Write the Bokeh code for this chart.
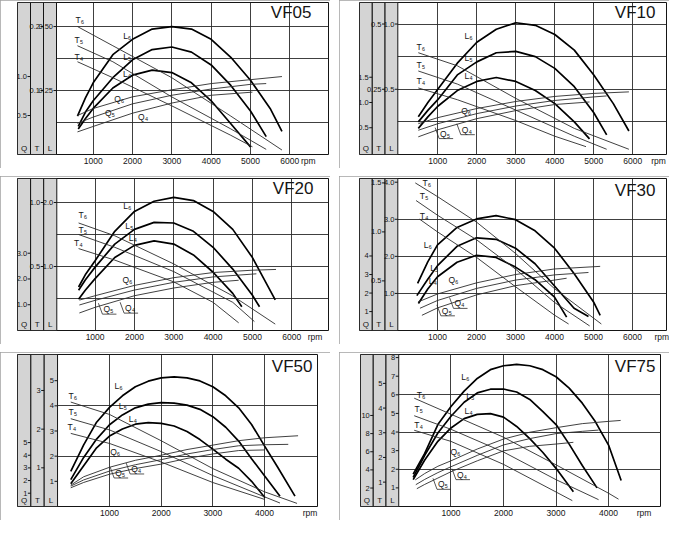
from bokeh.plotting import figure
from bokeh.models import Range1d, FixedTicker
from bokeh.layouts import row, column
from bokeh.embed import file_html
from bokeh.resources import INLINE
from bokeh.core.properties import value

FONT = "Liberation Sans"

# ------------------------------------------------------------------ VF05
vf05_rpm_L6 = [600, 800, 1000, 1500, 2000, 2500, 3000, 3500, 4000, 4500, 5000, 5500, 5800]
vf05_L6 = [0.15, 0.22, 0.28, 0.39, 0.45, 0.49, 0.50, 0.49, 0.45, 0.38, 0.29, 0.18, 0.09]
vf05_rpm_L5 = [620, 800, 1000, 1500, 2000, 2500, 3000, 3500, 4000, 4500, 5000, 5400]
vf05_L5 = [0.11, 0.165, 0.21, 0.30, 0.37, 0.41, 0.42, 0.40, 0.35, 0.27, 0.17, 0.07]
vf05_rpm_L4 = [620, 800, 1000, 1500, 2000, 2500, 3000, 3500, 4000, 4500, 5000]
vf05_L4 = [0.10, 0.14, 0.18, 0.26, 0.31, 0.33, 0.32, 0.28, 0.21, 0.12, 0.03]
vf05_rpm_T6 = [600, 1500, 3000, 4500, 5800]
vf05_T6 = [0.20, 0.17, 0.12, 0.06, 0.007]
vf05_rpm_T5 = [600, 1500, 3000, 4500, 5400]
vf05_T5 = [0.17, 0.145, 0.09, 0.04, 0.008]
vf05_rpm_T4 = [600, 1500, 3000, 4500, 5050]
vf05_T4 = [0.145, 0.12, 0.076, 0.03, 0.012]
vf05_rpm_Q6 = [600, 1000, 2000, 3000, 4000, 5000, 5800]
vf05_Q6 = [0.50, 0.59, 0.74, 0.83, 0.91, 0.96, 1.00]
vf05_rpm_Q5 = [600, 1000, 2000, 3000, 4000, 5000, 5400]
vf05_Q5 = [0.40, 0.48, 0.65, 0.76, 0.84, 0.90, 0.91]
vf05_rpm_Q4 = [600, 1000, 2000, 3000, 4000, 5050]
vf05_Q4 = [0.29, 0.36, 0.53, 0.66, 0.76, 0.80]
vf05_Q_ticks, vf05_Q_labels = [0.5, 1.0], ["0.5", "1.0"]
vf05_T_ticks, vf05_T_labels = [0.1, 0.2], ["0.1", "0.2"]
vf05_L_ticks, vf05_L_labels = [0.25, 0.50], ["0.25", "0.50"]

# ------------------------------------------------------------------ VF10
vf10_rpm_L6 = [500, 750, 1000, 1500, 2000, 2500, 3000, 3500, 4000, 4500, 5000, 5500, 5900]
vf10_L6 = [0.29, 0.40, 0.50, 0.70, 0.86, 0.96, 1.01, 0.99, 0.92, 0.80, 0.61, 0.39, 0.18]
vf10_rpm_L5 = [500, 750, 1000, 1500, 2000, 2500, 3000, 3500, 4000, 4500, 5000, 5330]
vf10_L5 = [0.25, 0.34, 0.42, 0.61, 0.71, 0.78, 0.79, 0.75, 0.66, 0.52, 0.32, 0.15]
vf10_rpm_L4 = [500, 750, 1000, 1500, 2000, 2500, 3000, 3500, 4000, 4500, 4890]
vf10_L4 = [0.20, 0.29, 0.37, 0.49, 0.56, 0.59, 0.56, 0.49, 0.39, 0.25, 0.12]
vf10_rpm_T6 = [500, 1500, 3000, 4500, 5900]
vf10_T6 = [0.39, 0.34, 0.215, 0.10, 0.02]
vf10_rpm_T5 = [500, 1500, 3000, 4500, 5330]
vf10_T5 = [0.32, 0.27, 0.17, 0.07, 0.02]
vf10_rpm_T4 = [500, 1500, 3000, 4000, 4800]
vf10_T4 = [0.255, 0.21, 0.13, 0.07, 0.03]
vf10_rpm_Q6 = [500, 1000, 2000, 3000, 4000, 5000, 5900]
vf10_Q6 = [0.58, 0.70, 0.88, 1.02, 1.12, 1.18, 1.21]
vf10_rpm_Q5 = [500, 1000, 2000, 3000, 4000, 5000, 5330]
vf10_Q5 = [0.45, 0.58, 0.78, 0.93, 1.04, 1.11, 1.13]
vf10_rpm_Q4 = [500, 1000, 2000, 3000, 4000, 4890]
vf10_Q4 = [0.32, 0.46, 0.68, 0.84, 0.96, 1.01]
vf10_Q_ticks, vf10_Q_labels = [0.5, 1.0, 1.5], ["0.5", "1.0", "1.5"]
vf10_T_ticks, vf10_T_labels = [0.25, 0.5], ["0.25", "0.5"]
vf10_L_ticks, vf10_L_labels = [0.5, 1.0], ["0.5", "1.0"]

# ------------------------------------------------------------------ VF20
vf20_rpm_L6 = [580, 750, 1000, 1500, 2000, 2500, 3000, 3500, 4000, 4500, 5000, 5580]
vf20_L6 = [0.68, 0.87, 1.09, 1.55, 1.86, 2.02, 2.08, 2.03, 1.86, 1.58, 1.14, 0.48]
vf20_rpm_L5 = [580, 750, 1000, 1500, 2000, 2500, 3000, 3500, 4000, 4500, 5000, 5180]
vf20_L5 = [0.63, 0.79, 0.99, 1.35, 1.58, 1.69, 1.68, 1.55, 1.30, 0.96, 0.55, 0.37]
vf20_rpm_L4 = [580, 750, 1000, 1500, 2000, 2500, 3000, 3500, 4000, 4500, 4730]
vf20_L4 = [0.49, 0.63, 0.81, 1.14, 1.33, 1.40, 1.35, 1.18, 0.91, 0.58, 0.37]
vf20_rpm_T6 = [580, 1500, 3000, 4500, 5580]
vf20_T6 = [0.84, 0.74, 0.52, 0.27, 0.05]
vf20_rpm_T5 = [580, 1500, 3000, 4500, 5050]
vf20_T5 = [0.75, 0.65, 0.46, 0.22, 0.07]
vf20_rpm_T4 = [580, 1500, 3000, 4000, 4650]
vf20_T4 = [0.64, 0.55, 0.38, 0.22, 0.06]
vf20_rpm_Q6 = [600, 1000, 2000, 3000, 4000, 5000, 5600]
vf20_Q6 = [1.18, 1.35, 1.75, 2.05, 2.25, 2.34, 2.37]
vf20_rpm_Q5 = [600, 1000, 2000, 3000, 4000, 5100]
vf20_Q5 = [0.99, 1.17, 1.57, 1.87, 2.08, 2.20]
vf20_rpm_Q4 = [600, 1000, 2000, 3000, 4000, 4650]
vf20_Q4 = [0.68, 0.90, 1.35, 1.65, 1.87, 1.95]
vf20_Q_ticks, vf20_Q_labels = [1.0, 2.0, 3.0], ["1.0", "2.0", "3.0"]
vf20_T_ticks, vf20_T_labels = [0.5, 1.0], ["0.5", "1.0"]
vf20_L_ticks, vf20_L_labels = [1.0, 2.0], ["1.0", "2.0"]

# ------------------------------------------------------------------ VF30
vf30_rpm_L6 = [490, 750, 1000, 1500, 2000, 2500, 3000, 3500, 4000, 4500, 5000, 5170]
vf30_L6 = [1.27, 1.85, 2.31, 2.78, 3.01, 3.10, 2.99, 2.69, 2.22, 1.54, 0.77, 0.41]
vf30_rpm_L5 = [470, 750, 1000, 1500, 2000, 2500, 3000, 3500, 4000, 4500, 4870]
vf30_L5 = [0.94, 1.38, 1.75, 2.27, 2.50, 2.46, 2.22, 1.80, 1.20, 0.60, 0.38]
vf30_rpm_L4 = [510, 750, 1000, 1500, 2000, 2500, 3000, 3500, 4000, 4310]
vf30_L4 = [0.73, 1.12, 1.45, 1.84, 2.03, 1.97, 1.71, 1.37, 0.90, 0.36]
vf30_rpm_T6 = [430, 1000, 2000, 3000, 4000, 5200]
vf30_T6 = [1.50, 1.36, 1.10, 0.78, 0.42, 0.06]
vf30_rpm_T5 = [450, 1000, 2000, 3000, 4000, 4900]
vf30_T5 = [1.32, 1.17, 0.92, 0.62, 0.28, 0.04]
vf30_rpm_T4 = [540, 1000, 2000, 3000, 4000, 4360]
vf30_T4 = [1.13, 1.00, 0.74, 0.44, 0.15, 0.06]
vf30_rpm_Q6 = [500, 1000, 2000, 3000, 4000, 5170]
vf30_Q6 = [1.52, 1.95, 2.55, 3.00, 3.30, 3.44]
vf30_rpm_Q5 = [550, 1000, 2000, 3000, 4000, 4870]
vf30_Q5 = [1.18, 1.60, 2.25, 2.70, 2.98, 3.11]
vf30_rpm_Q4 = [600, 1000, 2000, 3000, 4000, 4310]
vf30_Q4 = [0.80, 1.20, 1.90, 2.40, 2.70, 2.80]
vf30_Q_ticks, vf30_Q_labels = [1, 2, 3, 4], ["1", "2", "3", "4"]
vf30_T_ticks, vf30_T_labels = [0.5, 1.0, 1.5], ["0.5", "1.0", "1.5"]
vf30_L_ticks, vf30_L_labels = [1.0, 2.0, 3.0, 4.0], ["1.0", "2.0", "3.0", "4.0"]

# ------------------------------------------------------------------ VF50
vf50_rpm_L6 = [250, 500, 750, 1000, 1250, 1500, 1750, 2000, 2250, 2500, 2750, 3000, 3250, 3500, 3750, 4000, 4250, 4590]
vf50_L6 = [1.40, 2.45, 3.35, 3.94, 4.40, 4.76, 4.98, 5.11, 5.15, 5.11, 4.99, 4.76, 4.40, 3.92, 3.26, 2.41, 1.58, 0.41]
vf50_rpm_L5 = [250, 500, 750, 1000, 1250, 1500, 1750, 2000, 2250, 2500, 2750, 3000, 3250, 3500, 3750, 4000, 4300]
vf50_L5 = [1.07, 1.95, 2.68, 3.25, 3.64, 3.92, 4.07, 4.13, 4.11, 4.03, 3.86, 3.57, 3.15, 2.60, 1.90, 1.22, 0.41]
vf50_rpm_L4 = [250, 500, 750, 1000, 1250, 1500, 1750, 2000, 2250, 2500, 2750, 3000, 3250, 3500, 3750, 4010]
vf50_L4 = [0.90, 1.62, 2.33, 2.80, 3.08, 3.27, 3.33, 3.30, 3.20, 2.98, 2.66, 2.28, 1.88, 1.52, 1.00, 0.35]
vf50_rpm_T6 = [250, 1000, 2000, 3000, 4000, 4630]
vf50_T6 = [2.70, 2.38, 1.70, 0.98, 0.38, 0.08]
vf50_rpm_T5 = [250, 1000, 2000, 3000, 4000, 4300]
vf50_T5 = [2.27, 1.98, 1.42, 0.80, 0.25, 0.09]
vf50_rpm_T4 = [250, 1000, 2000, 3000, 4010]
vf50_T4 = [1.89, 1.63, 1.15, 0.62, 0.18]
vf50_rpm_Q6 = [250, 500, 1000, 1500, 2000, 2500, 3000, 3500, 4000, 4650]
vf50_Q6 = [1.64, 2.30, 3.05, 3.60, 4.00, 4.45, 4.80, 5.15, 5.38, 5.54]
vf50_rpm_Q5 = [250, 500, 1000, 1500, 2000, 2500, 3000, 3500, 4000, 4460]
vf50_Q5 = [1.56, 2.05, 2.75, 3.25, 3.65, 4.10, 4.45, 4.75, 4.83, 4.86]
vf50_rpm_Q4 = [250, 500, 1000, 1500, 2000, 2500, 3000, 3500, 4010]
vf50_Q4 = [1.43, 1.85, 2.50, 2.95, 3.30, 3.75, 4.10, 4.37, 4.42]
vf50_Q_ticks, vf50_Q_labels = [1, 2, 3, 4, 5], ["1", "2", "3", "4", "5"]
vf50_T_ticks, vf50_T_labels = [1, 2, 3], ["1", "2", "3"]
vf50_L_ticks, vf50_L_labels = [1, 2, 3, 4, 5], ["1", "2", "3", "4", "5"]

# ------------------------------------------------------------------ VF75
vf75_rpm_L6 = [280, 500, 750, 1000, 1250, 1500, 1750, 2000, 2250, 2500, 2750, 3000, 3250, 3500, 3750, 4000, 4240]
vf75_L6 = [1.74, 2.85, 4.40, 5.37, 6.20, 6.88, 7.35, 7.56, 7.63, 7.56, 7.35, 6.97, 6.36, 5.55, 4.55, 3.30, 1.40]
vf75_rpm_L5 = [280, 500, 750, 1000, 1250, 1500, 1750, 2000, 2250, 2500, 2750, 3000, 3250, 3500, 3780]
vf75_L5 = [1.56, 2.75, 3.95, 4.85, 5.60, 6.10, 6.30, 6.31, 6.15, 5.75, 5.10, 4.40, 3.35, 2.20, 1.00]
vf75_rpm_L4 = [280, 500, 750, 1000, 1250, 1500, 1750, 2000, 2250, 2500, 2750, 3000, 3330]
vf75_L4 = [1.44, 2.50, 3.50, 4.22, 4.72, 4.95, 4.99, 4.80, 4.30, 3.65, 2.90, 2.05, 0.79]
vf75_rpm_T6 = [300, 1000, 2000, 3000, 4000, 4190]
vf75_T6 = [4.40, 3.75, 2.82, 1.70, 0.55, 0.31]
vf75_rpm_T5 = [300, 1000, 2000, 3000, 3810]
vf75_T5 = [3.69, 3.14, 2.22, 1.10, 0.29]
vf75_rpm_T4 = [300, 1000, 2000, 3000, 3310]
vf75_T4 = [3.10, 2.65, 1.72, 0.60, 0.25]
vf75_rpm_Q6 = [320, 500, 750, 1000, 1500, 2000, 2500, 3000, 3500, 4000, 4230]
vf75_Q6 = [2.90, 3.60, 4.40, 5.00, 6.30, 7.40, 8.15, 8.65, 9.10, 9.35, 9.45]
vf75_rpm_Q5 = [330, 500, 750, 1000, 1500, 2000, 2500, 3000, 3500, 3810]
vf75_Q5 = [2.37, 2.95, 3.70, 4.35, 5.60, 6.75, 7.45, 8.00, 8.25, 8.39]
vf75_rpm_Q4 = [350, 500, 750, 1000, 1500, 2000, 2500, 3000, 3330]
vf75_Q4 = [1.93, 2.40, 3.10, 3.80, 5.00, 6.10, 6.60, 6.85, 7.04]
vf75_Q_ticks, vf75_Q_labels = [2, 4, 6, 8, 10], ["2", "4", "6", "8", "10"]
vf75_T_ticks, vf75_T_labels = [1, 2, 3, 4, 5], ["1", "2", "3", "4", "5"]
vf75_L_ticks, vf75_L_labels = [1, 2, 3, 4, 5, 6, 7, 8], ["1", "2", "3", "4", "5", "6", "7", "8"]

rpm_ticks_long = [1000, 2000, 3000, 4000, 5000, 6000]
rpm_ticks_short = [1000, 2000, 3000, 4000]
curve_names = ["L₆", "L₅", "L₄", "T₆", "T₅", "T₄", "Q₆", "Q₅", "Q₄"]

# ------------------------------------------------------------------ layout (per panel)
panels = [
    dict(name="VF05", xr=(-925, 6984), grid_lo=67, Lr=(0, 0.594), Tr=(0, 0.2376), Qr=(0, 1.95),
         bl=17, br=2, title_off=(17, 10), rpm_at=6470, xt=rpm_ticks_long, yg=[0.125, 0.25, 0.375, 0.5],
         leader=False,
         L=[(vf05_rpm_L6, vf05_L6), (vf05_rpm_L5, vf05_L5), (vf05_rpm_L4, vf05_L4)],
         T=[(vf05_rpm_T6, vf05_T6), (vf05_rpm_T5, vf05_T5), (vf05_rpm_T4, vf05_T4)],
         Q=[(vf05_rpm_Q6, vf05_Q6), (vf05_rpm_Q5, vf05_Q5), (vf05_rpm_Q4, vf05_Q4)],
         ticks=[(vf05_Q_ticks, vf05_Q_labels), (vf05_T_ticks, vf05_T_labels), (vf05_L_ticks, vf05_L_labels)],
         lab=[(1865, 0.465), (1865, 0.382), (1865, 0.315), (660, 0.525), (635, 0.446), (635, 0.382),
              (1660, 0.218), (1425, 0.164), (2270, 0.145)]),
    dict(name="VF10", xr=(-1008, 6864), grid_lo=-26, Lr=(0, 1.165), Tr=(0, 0.5825), Qr=(-0.03, 2.98),
         bl=20, br=3, title_off=(11, 10), rpm_at=6660, xt=rpm_ticks_long, yg=[0.25, 0.5, 0.75, 1.0],
         leader=True,
         L=[(vf10_rpm_L6, vf10_L6), (vf10_rpm_L5, vf10_L5), (vf10_rpm_L4, vf10_L4)],
         T=[(vf10_rpm_T6, vf10_T6), (vf10_rpm_T5, vf10_T5), (vf10_rpm_T4, vf10_T4)],
         Q=[(vf10_rpm_Q6, vf10_Q6), (vf10_rpm_Q5, vf10_Q5), (vf10_rpm_Q4, vf10_Q4)],
         ticks=[(vf10_Q_ticks, vf10_Q_labels), (vf10_T_ticks, vf10_T_labels), (vf10_L_ticks, vf10_L_labels)],
         lab=[(1787, 0.905), (1787, 0.737), (1787, 0.599), (564, 0.824), (564, 0.687), (564, 0.561),
              (1727, 0.336), (1188, 0.160), (1744, 0.190)]),
    dict(name="VF20", xr=(-973, 6934), grid_lo=26, Lr=(0, 2.375), Tr=(0, 1.1875), Qr=(0, 5.9),
         bl=17, br=2, title_off=(15, 10), rpm_at=6593, xt=rpm_ticks_long, yg=[0.5, 1.0, 1.5, 2.0],
         leader=True,
         L=[(vf20_rpm_L6, vf20_L6), (vf20_rpm_L5, vf20_L5), (vf20_rpm_L4, vf20_L4)],
         T=[(vf20_rpm_T6, vf20_T6), (vf20_rpm_T5, vf20_T5), (vf20_rpm_T4, vf20_T4)],
         Q=[(vf20_rpm_Q6, vf20_Q6), (vf20_rpm_Q5, vf20_Q5), (vf20_rpm_Q4, vf20_Q4)],
         ticks=[(vf20_Q_ticks, vf20_Q_labels), (vf20_T_ticks, vf20_T_labels), (vf20_L_ticks, vf20_L_labels)],
         lab=[(1822, 1.94), (1873, 1.63), (1958, 1.44), (686, 1.80), (686, 1.57), (576, 1.36),
              (1822, 0.785), (1339, 0.333), (1890, 0.349)]),
    dict(name="VF30", xr=(-1000, 6870), grid_lo=-18, Lr=(0, 4.10), Tr=(-0.0065, 1.545), Qr=(-0.02, 8.18),
         bl=20, br=3, title_off=(11, 12), rpm_at=6750, xt=rpm_ticks_long, yg=[1.0, 2.0, 3.0],
         leader=True,
         L=[(vf30_rpm_L6, vf30_L6), (vf30_rpm_L5, vf30_L5), (vf30_rpm_L4, vf30_L4)],
         T=[(vf30_rpm_T6, vf30_T6), (vf30_rpm_T5, vf30_T5), (vf30_rpm_T4, vf30_T4)],
         Q=[(vf30_rpm_Q6, vf30_Q6), (vf30_rpm_Q5, vf30_Q5), (vf30_rpm_Q4, vf30_Q4)],
         ticks=[(vf30_Q_ticks, vf30_Q_labels), (vf30_T_ticks, vf30_T_labels), (vf30_L_ticks, vf30_L_labels)],
         lab=[(752, 2.31), (915, 1.69), (880, 1.33), (727, 3.97), (658, 3.63), (658, 3.10),
              (1410, 1.35), (1240, 0.53), (1564, 0.73)]),
    dict(name="VF50", xr=(-781, 5026), grid_lo=-6, Lr=(0, 6.04), Tr=(0, 3.93), Qr=(-0.05, 11.96),
         bl=17, br=13, title_off=(5, 12), rpm_at=4883, xt=rpm_ticks_short, yg=[2, 4],
         leader=True,
         L=[(vf50_rpm_L6, vf50_L6), (vf50_rpm_L5, vf50_L5), (vf50_rpm_L4, vf50_L4)],
         T=[(vf50_rpm_T6, vf50_T6), (vf50_rpm_T5, vf50_T5), (vf50_rpm_T4, vf50_T4)],
         Q=[(vf50_rpm_Q6, vf50_Q6), (vf50_rpm_Q5, vf50_Q5), (vf50_rpm_Q4, vf50_Q4)],
         ticks=[(vf50_Q_ticks, vf50_Q_labels), (vf50_T_ticks, vf50_T_labels), (vf50_L_ticks, vf50_L_labels)],
         lab=[(1174, 4.80), (1258, 4.01), (1452, 3.49), (290, 4.40), (290, 3.75), (271, 3.16),
              (1110, 2.18), (1206, 1.33), (1516, 1.49)]),
    dict(name="VF75", xr=(-723, 4989), grid_lo=5, Lr=(0, 8.165), Tr=(0.013, 6.17), Qr=(-0.035, 16.72),
         bl=21, br=9, title_off=(5, 12), rpm_at=4677, xt=rpm_ticks_short, yg=[2, 4, 6],
         leader=True,
         L=[(vf75_rpm_L6, vf75_L6), (vf75_rpm_L5, vf75_L5), (vf75_rpm_L4, vf75_L4)],
         T=[(vf75_rpm_T6, vf75_T6), (vf75_rpm_T5, vf75_T5), (vf75_rpm_T4, vf75_T4)],
         Q=[(vf75_rpm_Q6, vf75_Q6), (vf75_rpm_Q5, vf75_Q5), (vf75_rpm_Q4, vf75_Q4)],
         ticks=[(vf75_Q_ticks, vf75_Q_labels), (vf75_T_ticks, vf75_T_labels), (vf75_L_ticks, vf75_L_labels)],
         lab=[(1273, 6.98), (1368, 5.91), (1336, 5.13), (429, 6.01), (385, 5.24), (385, 4.36),
              (1084, 2.94), (848, 1.19), (1209, 1.71)]),
]

W, H = 330, 168
TOP, BOTTOM = 2, 13
INK = "#151515"
LEADER = [(-10, -6), (-6, 5), (8, 5)]   # bracket shape in screen px around Q5/Q4 labels


def make_panel(c):
    x_lo, x_hi = c["xr"]
    L_lo, L_hi = c["Lr"]
    p = figure(width=W, height=H, output_backend="svg", toolbar_location=None,
               x_range=Range1d(x_lo, x_hi), y_range=Range1d(L_lo, L_hi),
               y_axis_location=None, min_border_left=c["bl"], min_border_right=c["br"],
               min_border_top=TOP, min_border_bottom=BOTTOM,
               background_fill_color="white", border_fill_color="white",
               outline_line_color=INK, outline_line_width=1,
               styles={"outline": "1px solid #a0a0a0", "outline-offset": "-1px"})
    p.extra_y_ranges = {"T": Range1d(*c["Tr"]), "Q": Range1d(*c["Qr"])}

    p.xgrid.ticker = FixedTicker(ticks=c["xt"])
    p.ygrid.ticker = FixedTicker(ticks=c["yg"])
    p.grid.grid_line_color = "#2a2a2a"
    p.grid.grid_line_width = 0.9

    ax = p.xaxis[0]
    ax.ticker = FixedTicker(ticks=c["xt"] + [c["rpm_at"]])
    ax.major_label_overrides = {c["rpm_at"]: "rpm"}
    ax.axis_line_color = None
    ax.major_tick_line_color = None
    ax.minor_tick_line_color = None
    ax.major_tick_out = 0
    ax.major_tick_in = 0
    ax.minor_tick_out = 0
    ax.minor_tick_in = 0
    ax.major_label_standoff = 1
    ax.major_label_text_font = FONT
    ax.major_label_text_font_size = "8.5px"
    ax.major_label_text_color = INK

    frame_w = W - c["bl"] - c["br"]
    frame_h = H - TOP - BOTTOM
    rpp = (x_hi - x_lo) / frame_w
    lpp = (L_hi - L_lo) / frame_h
    g = c["grid_lo"]
    cw = (g - x_lo) / 3.0
    edges = [x_lo + i * cw for i in range(4)]

    # shaded Q / T / L scale strip
    p.quad(left=edges[:3], right=edges[1:], bottom=L_lo, top=L_hi,
           fill_color="#d4d4d4", line_color=INK, line_width=1)

    for k, (nm, (tks, lbs)) in enumerate(zip(["Q", "T", "L"], c["ticks"])):
        kw = {} if nm == "L" else {"y_range_name": nm}
        xr = edges[k + 1]
        n = len(tks)
        p.segment(x0=[xr - 3 * rpp] * n, x1=[xr] * n, y0=tks, y1=tks,
                  line_color=INK, line_width=1, **kw)
        p.text(x=[xr] * n, y=tks, text=lbs, x_offset=-3.5, text_align="right",
               text_baseline="middle", text_font=value(FONT), text_font_size="7.5px",
               text_color=INK, **kw)
        p.text(x=[(edges[k] + edges[k + 1]) / 2], y=[L_lo], text=[nm], y_offset=-6,
               text_align="center", text_baseline="middle", text_font=value(FONT),
               text_font_size="8px", text_color=INK)

    # curves
    for rpm, vals in c["L"]:
        p.line(rpm, vals, line_color="#000000", line_width=1.7)
    for rpm, vals in c["T"]:
        p.line(rpm, vals, line_color="#2b2b2b", line_width=0.9, y_range_name="T")
    for rpm, vals in c["Q"]:
        p.line(rpm, vals, line_color="#2b2b2b", line_width=0.9, y_range_name="Q")

    # curve labels
    p.text(x=[a for a, b in c["lab"]], y=[b for a, b in c["lab"]], text=curve_names,
           text_align="center", text_baseline="middle", text_font=value(FONT),
           text_font_size="8.5px", text_color=INK)

    # bracket leaders of the Q5 / Q4 labels
    if c["leader"]:
        for lx, ly in c["lab"][7:9]:
            p.line([lx + dx * rpp for dx, dy in LEADER], [ly - dy * lpp for dx, dy in LEADER],
                   line_color="#2b2b2b", line_width=0.8)

    # panel title
    tx, ty = c["title_off"]
    p.text(x=[x_hi], y=[L_hi], text=[c["name"]], x_offset=-tx, y_offset=ty,
           text_align="right", text_baseline="middle", text_font=value(FONT),
           text_font_size="17px", text_color=INK)
    return p


figs = [make_panel(c) for c in panels]
layout = column(row(figs[0], figs[1], spacing=9),
                row(figs[2], figs[3], spacing=9),
                row(figs[4], figs[5], spacing=9), spacing=8)

open("out.html", "w").write(file_html(layout, INLINE))
